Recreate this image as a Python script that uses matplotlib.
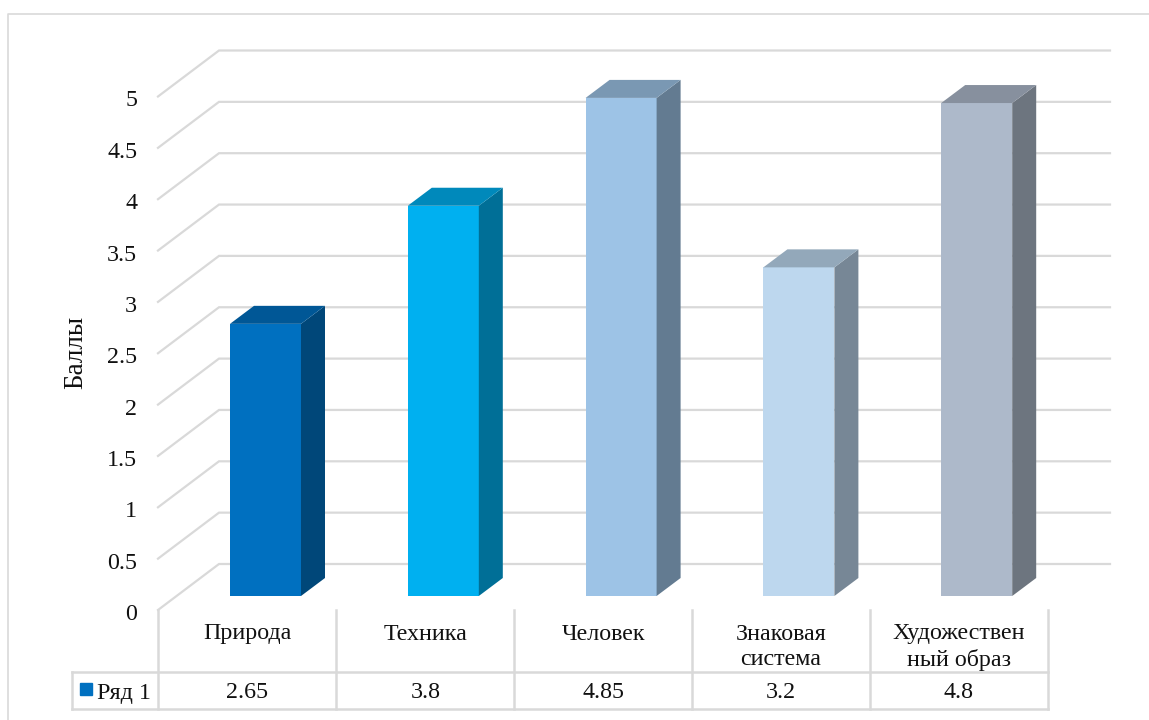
import matplotlib
matplotlib.use("Agg")
import matplotlib.pyplot as plt
from matplotlib.patches import Polygon, Rectangle
from matplotlib.lines import Line2D
from matplotlib.transforms import ScaledTranslation

plt.rcParams['font.family'] = ['Liberation Serif', 'DejaVu Serif']

categories = ["Природа", "Техника", "Человек", "Знаковая\nсистема", "Художествен\nный образ"]
values = [2.65, 3.8, 4.85, 3.2, 4.8]
colors = ["#0070C0", "#00B0F0", "#9DC3E6", "#BDD7EE", "#ADB9CA"]
yticks = [0, 0.5, 1, 1.5, 2, 2.5, 3, 3.5, 4, 4.5, 5]
yticklabels = ["0", "0.5", "1", "1.5", "2", "2.5", "3", "3.5", "4", "4.5", "5"]
series_name = "Ряд 1"
ylabel = "Баллы"

W, H = 1149, 720
X0, XS = 247.5, 177.8      # pixel of category 0, pixels per category
Y0, YS = 610.0, 102.7      # pixel of value 0, pixels per unit
AX_LEFT = 146.0
FS = 17.3

fig = plt.figure(figsize=(W / 100, H / 100), dpi=100, facecolor="white")
ax = fig.add_axes([AX_LEFT / W, 0, 1 - AX_LEFT / W, 1])
ax.set_xlim((AX_LEFT - X0) / XS, (W - X0) / XS)
ax.set_ylim((Y0 - H) / YS, Y0 / YS)
for s in ax.spines.values():
    s.set_visible(False)
ax.set_xticks([])
ax.set_yticks(yticks)
ax.set_yticklabels(yticklabels, fontsize=FS, color="#111111")
ax.tick_params(axis="y", length=0, pad=6.3)
for lab in ax.get_yticklabels():
    lab.set_transform(lab.get_transform() + ScaledTranslation(0, -2 / 100, fig.dpi_scale_trans))


def dx(px):
    return px / XS


def dy(px):
    return px / YS


def px_x(px):
    return (px - X0) / XS


def px_y(px):
    return (Y0 - px) / YS


GRID = "#D9D9D9"
n = len(categories)
WALL_DX, WALL_DY = 61, 46
left = px_x(158)
right = px_x(1110)

# walls
for v in yticks:
    ax.plot([left, left + dx(WALL_DX), right], [v, v + dy(WALL_DY), v + dy(WALL_DY)],
            color=GRID, lw=1.6, clip_on=False, zorder=1, solid_joinstyle="miter")

# table
tab_top, tab_bot, tab_left = px_y(672), px_y(708.5), px_x(72)
edges = [px_x(158 + 178 * i) for i in range(n + 1)]
for e in edges:
    ax.plot([e, e], [0, tab_bot], color=GRID, lw=1.8, clip_on=False, zorder=1)
ax.plot([tab_left, edges[-1]], [tab_top, tab_top], color=GRID, lw=1.8, clip_on=False, zorder=1)
ax.plot([tab_left, edges[-1]], [tab_bot, tab_bot], color=GRID, lw=1.8, clip_on=False, zorder=1)
ax.plot([tab_left, tab_left], [tab_top, tab_bot], color=GRID, lw=1.8, clip_on=False, zorder=1)
ax.add_patch(Rectangle((px_x(80), px_y(695)), dx(12), dy(12), color=colors[0], clip_on=False))
ax.text(px_x(97), px_y(693), series_name, fontsize=FS, va="center", ha="left", color="#111111", clip_on=False)

for i, (c, v) in enumerate(zip(categories, values)):
    yc = px_y(647) if "\n" in c else px_y(634)
    ax.text(i, yc, c, fontsize=FS, ha="center", va="center", linespacing=1.28, color="#111111")
    ax.text(i, px_y(693), str(v), fontsize=FS, ha="center", va="center", color="#111111")


def shade(hexcol, f):
    r, g, b = matplotlib.colors.to_rgb(hexcol)
    return (r * f, g * f, b * f)


# bars
BAR_W = 71
FX, FY = 18, 14
DX, DY = 24, 18
for i, (v, col) in enumerate(zip(values, colors)):
    x0 = i + dx(FX - BAR_W / 2)
    x1 = x0 + dx(BAR_W)
    y0 = dy(FY)
    y1 = v + dy(FY)
    ddx, ddy = dx(DX), dy(DY)
    ax.bar(x0 + dx(BAR_W) / 2, v, width=dx(BAR_W), bottom=y0, color=col, zorder=3)
    ax.add_patch(Polygon([(x1, y0), (x1 + ddx, y0 + ddy), (x1 + ddx, y1 + ddy), (x1, y1)],
                         closed=True, facecolor=shade(col, 0.63), edgecolor="none", zorder=3))
    ax.add_patch(Polygon([(x0, y1), (x1, y1), (x1 + ddx, y1 + ddy), (x0 + ddx, y1 + ddy)],
                         closed=True, facecolor=shade(col, 0.78), edgecolor="none", zorder=3))

# y axis title
fig.text(76 / W, 1 - 352 / H, ylabel, rotation=90, fontsize=19.5, ha="center", va="center", color="#111111")

# outer chart border
fig.add_artist(Line2D([8 / W, 8 / W, 1], [0, 1 - 13.7 / H, 1 - 13.7 / H],
                      transform=fig.transFigure, color="#D9D9D9", lw=1.2))

fig.savefig("out.png", dpi=100)
